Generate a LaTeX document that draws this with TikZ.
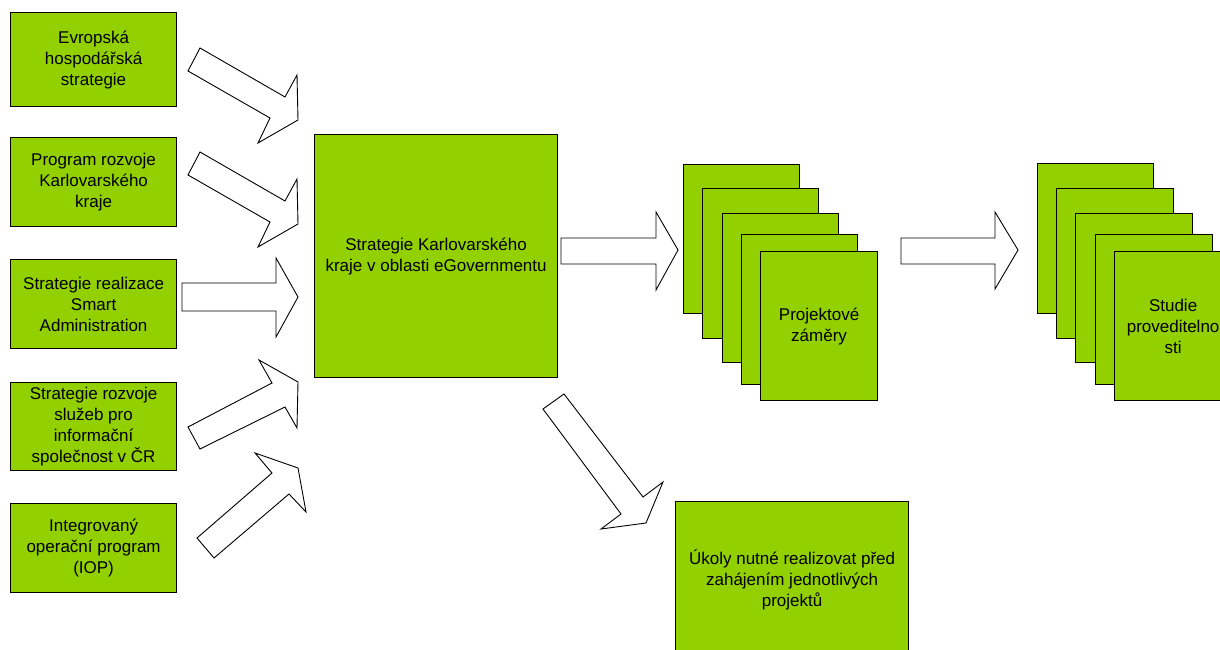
\documentclass[tikz,border=0pt]{standalone}
\usepackage{fontspec}
\setmainfont{Liberation Sans}
\definecolor{grn}{RGB}{146,208,0}
\begin{document}
\begin{tikzpicture}[x=1pt,y=-1pt,
  box/.style={draw=black, line width=1.2pt, fill=grn, inner sep=0pt, align=center,
    anchor=north west, font=\fontsize{17}{21}\selectfont},
  barrow/.style={draw=black, line width=0.9pt, fill=white, line join=miter}]
\useasboundingbox (0,0) rectangle (1220,650);
\clip (0,0) rectangle (1220,650);
% left boxes
\node[box, minimum width=166pt, minimum height=94pt] (b1) at (10,12) {Evropská\\hospodářská\\strategie};
\node[box, minimum width=166pt, minimum height=89pt] (b2) at (10,137) {Program rozvoje\\Karlovarského\\kraje};
\node[box, minimum width=166pt, minimum height=89pt] (b3) at (10,259) {Strategie realizace\\Smart\\Administration};
\node[box, minimum width=166pt, minimum height=88pt] (b4) at (10,382) {Strategie rozvoje\\služeb pro\\informační\\společnost v ČR};
\node[box, minimum width=166pt, minimum height=89pt] (b5) at (10,503) {Integrovaný\\operační program\\(IOP)};
% center box
\node[box, minimum width=243pt, minimum height=243pt] (c) at (314,134) {Strategie Karlovarského\\kraje v oblasti eGovernmentu};
% stack 1
\node[box, minimum width=116pt, minimum height=149pt] (p1) at (683,164) {};
\node[box, minimum width=116pt, minimum height=150pt] (p2) at (702,188) {};
\node[box, minimum width=116pt, minimum height=149pt] (p3) at (722,213) {};
\node[box, minimum width=116pt, minimum height=150pt] (p4) at (741,234) {};
\node[box, minimum width=117pt, minimum height=149pt] (p5) at (760,251) {Projektové\\záměry};
% stack 2
\node[box, minimum width=116pt, minimum height=150pt] (s1) at (1037,163) {};
\node[box, minimum width=117pt, minimum height=150pt] (s2) at (1056,188) {};
\node[box, minimum width=117pt, minimum height=149pt] (s3) at (1075,213) {};
\node[box, minimum width=117pt, minimum height=150pt] (s4) at (1095,234) {};
\node[box, minimum width=117pt, minimum height=149pt] (s5) at (1114,251) {Studie\\proveditelno\\sti};
% bottom box
\node[box, minimum width=233pt, minimum height=156pt] (u) at (675,501) {Úkoly nutné realizovat před\\zahájením jednotlivých\\projektů};
% block arrows
\draw[barrow] (200,48) -- (285,97) -- (297,75) -- (298,120) -- (258,143) -- (270,118) -- (188,71) -- cycle;
\draw[barrow] (200,152) -- (285,201) -- (297,179) -- (298,224) -- (258,247) -- (270,222) -- (188,175) -- cycle;
\draw[barrow] (182,283) -- (276,283) -- (276,258) -- (298,297) -- (276,337) -- (276,311) -- (182,311) -- cycle;
\draw[barrow] (188,427) -- (272,383) -- (259,360) -- (298,382) -- (297,428) -- (285,407) -- (200,449) -- cycle;
\draw[barrow] (197,538) -- (272,473) -- (255,453) -- (298,468) -- (306,512) -- (289,494) -- (214,558) -- cycle;
\draw[barrow] (561,238) -- (656,238) -- (656,212) -- (678,250) -- (656,290) -- (656,264) -- (561,264) -- cycle;
\draw[barrow] (901,238) -- (995,238) -- (995,212) -- (1018,250) -- (995,289) -- (995,264) -- (901,264) -- cycle;
\draw[barrow] (564,394) -- (643,497) -- (663,482) -- (646,523) -- (601,529) -- (621,514) -- (543,409) -- cycle;
\end{tikzpicture}
\end{document}
